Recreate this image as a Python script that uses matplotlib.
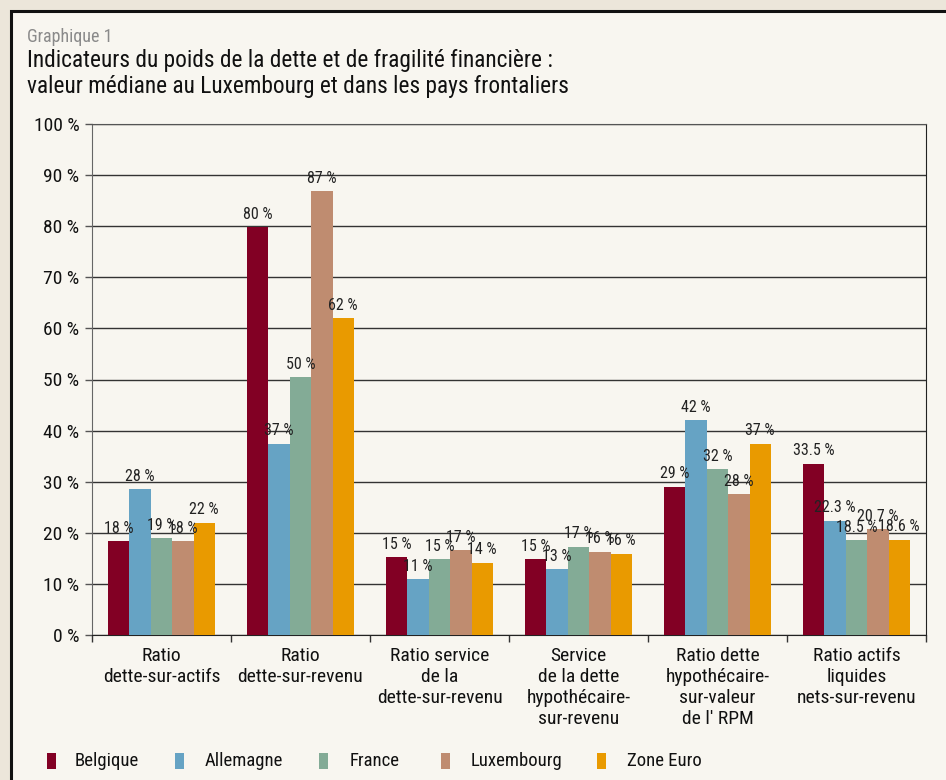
import matplotlib
matplotlib.use("Agg")
import matplotlib.pyplot as plt
from matplotlib.patches import Rectangle
from matplotlib import font_manager
import numpy as np

# ---------------- data ----------------
categories = [
    "Ratio\ndette-sur-actifs",
    "Ratio\ndette-sur-revenu",
    "Ratio service\nde la\ndette-sur-revenu",
    "Service\nde la dette\nhypothécaire-\nsur-revenu",
    "Ratio dette\nhypothécaire-\nsur-valeur\nde l' RPM",
    "Ratio actifs\nliquides\nnets-sur-revenu",
]
series_names = ["Belgique", "Allemagne", "France", "Luxembourg", "Zone Euro"]
belgique   = [18.3, 79.8, 15.2, 14.8, 29.0, 33.5]
allemagne  = [28.5, 37.4, 10.9, 12.9, 42.0, 22.3]
france     = [18.9, 50.4, 14.8, 17.3, 32.4, 18.5]
luxembourg = [18.3, 86.8, 16.6, 16.3, 27.5, 20.7]
zone_euro  = [22.0, 62.0, 14.1, 15.9, 37.4, 18.6]
labels_belgique   = ["18 %", "80 %", "15 %", "15 %", "29 %", "33.5 %"]
labels_allemagne  = ["28 %", "37 %", "11 %", "13 %", "42 %", "22.3 %"]
labels_france     = ["19 %", "50 %", "15 %", "17 %", "32 %", "18.5 %"]
labels_luxembourg = ["18 %", "87 %", "17 %", "16 %", "28 %", "20.7 %"]
labels_zone_euro  = ["22 %", "62 %", "14 %", "16 %", "37 %", "18.6 %"]
yticks = [0, 10, 20, 30, 40, 50, 60, 70, 80, 90, 100]
ytick_labels = ["0 %", "10 %", "20 %", "30 %", "40 %", "50 %", "60 %", "70 %", "80 %", "90 %", "100 %"]

values = [belgique, allemagne, france, luxembourg, zone_euro]
value_labels = [labels_belgique, labels_allemagne, labels_france, labels_luxembourg, labels_zone_euro]
colors = ["#820024", "#66a3c4", "#83ab96", "#bf8c70", "#e99a00"]

# ---------------- fonts ----------------
avail = {f.name for f in font_manager.fontManager.ttflist}
narrow = None
for cand in ["Roboto Condensed", "Liberation Sans Narrow", "Open Sans Condensed", "DejaVu Sans Condensed"]:
    if cand in avail:
        narrow = cand
        break
fam = [narrow, "DejaVu Sans"] if narrow else ["DejaVu Sans"]
plt.rcParams["font.family"] = fam

W, H = 946, 780
fig = plt.figure(figsize=(W / 100, H / 100), dpi=100)
fig.patch.set_facecolor("#ece6da")

# frame panel
panel = Rectangle((11 / W, -20 / H), 960 / W, (H - 11 + 20) / H,
                  transform=fig.transFigure, facecolor="#f8f6f0",
                  edgecolor="#111111", linewidth=2.2, zorder=-10)
fig.patches.append(panel)

fig.text(27 / W, 1 - 37 / H, "Graphique 1", fontsize=13, color="#8a8a8a", va="center", ha="left")
fig.text(27 / W, 1 - 60 / H, "Indicateurs du poids de la dette et de fragilité financière :",
         fontsize=16.8, color="#111111", va="center", ha="left")
fig.text(27 / W, 1 - 87 / H, "valeur médiane au Luxembourg et dans les pays frontaliers",
         fontsize=16.8, color="#111111", va="center", ha="left")

ax = fig.add_axes([92 / W, 1 - 635 / H, (926 - 92) / W, (635 - 124) / H])
ax.set_facecolor("none")
ax.set_zorder(5)

n = len(categories)
x = np.arange(n)
bw = 0.154
for i, (vals, labs, col) in enumerate(zip(values, value_labels, colors)):
    pos = x + (i - 2) * bw
    bars = ax.bar(pos, vals, width=bw, color=col, zorder=3, linewidth=0)
    for b, lab in zip(bars, labs):
        ax.annotate(lab, (b.get_x() + b.get_width() / 2, b.get_height()),
                    xytext=(0, 4), textcoords="offset points", ha="center", va="bottom",
                    fontsize=11.5, color="#222222", zorder=4)

ax.set_xlim(-0.5, n - 0.5)
ax.set_ylim(0, 100)
ax.set_yticks(yticks)
ax.set_yticklabels(ytick_labels, fontsize=14, color="#111111")
ax.yaxis.grid(True, color="#333333", linewidth=1.0, zorder=1)
ax.set_axisbelow(True)
ax.tick_params(axis="y", length=5, width=1, color="#555555", pad=4)

ax.set_xticks(np.arange(n + 1) - 0.5)
ax.set_xticklabels([])
ax.tick_params(axis="x", length=5, width=1, color="#333333")
for xi, cat in zip(x, categories):
    ax.text(xi, -2.4, cat, ha="center", va="top", fontsize=14, color="#111111",
            linespacing=1.2, transform=ax.transData)

for s in ["left", "right", "top", "bottom"]:
    ax.spines[s].set_visible(True)
ax.spines["left"].set_color("#666666")
ax.spines["top"].set_color("#555555")
ax.spines["right"].set_color("#222222")
ax.spines["bottom"].set_color("#222222")

# legend
leg_sq_x = [47, 175, 319, 441, 597]
leg_tx_x = [75, 205, 350, 471, 627]
for name, col, sx, tx in zip(series_names, colors, leg_sq_x, leg_tx_x):
    fig.patches.append(Rectangle((sx / W, 1 - 769 / H), 9 / W, 16 / H,
                                 transform=fig.transFigure, facecolor=col, edgecolor="none"))
    fig.text(tx / W, 1 - 761 / H, name, fontsize=13.5, color="#111111", va="center", ha="left")

fig.savefig("out.png", dpi=100, facecolor=fig.get_facecolor())
